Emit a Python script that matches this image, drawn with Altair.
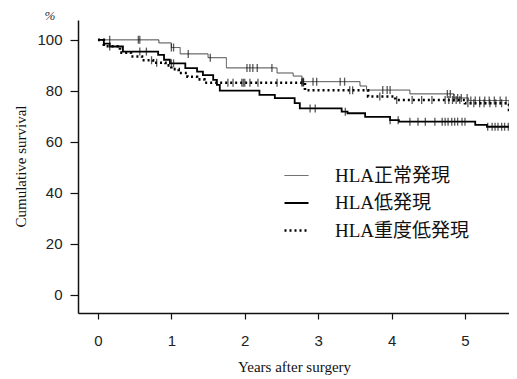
import altair as alt
import pandas as pd

groups = ["HLA正常発現", "HLA低発現", "HLA重度低発現"]
end_time = 5.75

# Kaplan-Meier steps (years, survival %)
normal_t = [0, 0.83, 1.0, 1.12, 1.5, 1.75, 2.44, 2.66, 2.78, 3.57, 3.66, 4.25, 4.85, 5.05, 5.6]
normal_s = [100, 98.8, 97.0, 94.5, 93.0, 89.0, 87.0, 85.8, 83.6, 81.9, 80.3, 78.8, 77.2, 76.2, 73.5]

low_t = [0, 0.08, 0.16, 0.34, 0.82, 0.9, 0.98, 1.19, 1.35, 1.43, 1.57, 1.62, 1.66, 2.2, 2.41, 2.68, 2.75,
         3.32, 3.4, 3.64, 3.98, 4.1, 5.14, 5.3]
low_s = [100, 98.5, 97.4, 95.4, 94.1, 92.2, 90.8, 88.9, 87.5, 86.2, 84.3, 82.3, 80.1, 78.4, 77.1, 75.2, 73.1,
         71.8, 71.2, 69.8, 68.5, 67.9, 66.6, 65.9]

severe_t = [0, 0.08, 0.3, 0.45, 0.6, 0.75, 0.92, 1.0, 1.1, 1.22, 1.35, 1.45, 2.82, 3.68, 4.05, 5.0, 5.6]
severe_s = [100, 97.5, 95.0, 93.5, 92.0, 91.0, 90.0, 88.5, 87.0, 85.5, 84.5, 83.2, 80.2, 77.8, 76.4, 75.1, 72.5]

# censoring times (years)
normal_c = [0.16, 0.55, 0.57, 1.0, 1.03, 1.23, 1.53, 2.03, 2.07, 2.11, 2.17, 2.37, 2.78, 2.8, 2.93, 2.98,
            3.3, 3.36, 3.88, 3.94, 3.98, 4.76, 4.8, 4.85, 4.9, 4.95, 5.03, 5.08, 5.14, 5.2, 5.27, 5.33,
            5.4, 5.48, 5.56, 5.66]
low_c = [0.16, 0.57, 0.66, 1.0, 1.03, 2.89, 2.96, 3.37, 3.98, 4.09, 4.25, 4.36, 4.46, 4.59, 4.69, 4.73,
         4.77, 4.82, 4.86, 4.9, 4.96, 5.0, 5.31, 5.37, 5.41, 5.45, 5.5, 5.54, 5.59, 5.64]
severe_c = [0.73, 0.8, 1.77, 1.84, 1.96, 1.98, 2.0, 2.07, 2.18, 2.44, 2.78, 2.8, 3.43, 3.47, 3.84, 4.07,
            4.28, 4.41, 4.55, 4.73, 4.78, 4.83, 4.88, 4.93, 5.04, 5.12, 5.2, 5.26, 5.34, 5.42, 5.5]

y_ticks = [0, 10, 20, 30, 40, 50, 60, 70, 80, 90, 100]
x_ticks = [0, 1, 2, 3, 4, 5]
pct_label = ["%"]

series = [(groups[0], normal_t, normal_s, normal_c),
          (groups[1], low_t, low_s, low_c),
          (groups[2], severe_t, severe_s, severe_c)]

step_rows, cens_rows = [], []
for g, ts, ss, cs in series:
    for t, s in zip(ts, ss):
        step_rows.append({"group": g, "t": t, "s": s})
    step_rows.append({"group": g, "t": end_time, "s": ss[-1]})
    for c in cs:
        sv = [s for t, s in zip(ts, ss) if t <= c][-1]
        cens_rows.append({"group": g, "t": c, "s": sv})

steps = pd.DataFrame(step_rows)
cens = pd.DataFrame(cens_rows)

serif = "'Liberation Serif', 'Noto Sans CJK JP'"
sans = "'Liberation Sans', Arial"

x_scale = alt.Scale(domain=[-0.272, 5.6], nice=False, zero=False)
y_scale = alt.Scale(domain=[-7.2, 107.8], nice=False, zero=False)

x_enc = alt.X("t:Q", scale=x_scale, axis=alt.Axis(
    values=x_ticks, format="d", title="Years after surgery", titleFont=serif, titleFontSize=15,
    titleFontWeight="normal", titleColor="#111", titleX=216, titleY=53, titleBaseline="middle",
    labelFont=sans, labelFontSize=15, labelColor="#222", labelPadding=14, tickSize=6,
    tickColor="#111", tickWidth=1.2, domainColor="#111", domainWidth=1.5, grid=False))
y_enc = alt.Y("s:Q", scale=y_scale, axis=alt.Axis(
    values=y_ticks, title="Cumulative survival", titleFont=serif, titleFontSize=15,
    titleFontWeight="normal", titleColor="#111", titleX=-58, titleY=146, titleAngle=270,
    titleAlign="center", titleBaseline="middle",
    labelExpr="datum.value % 20 === 0 ? datum.label : ''",
    labelFont=sans, labelFontSize=15, labelColor="#222", labelPadding=8,
    tickSize={"condition": {"test": "datum.value % 20 === 0", "value": 8}, "value": 5},
    tickColor="#111", tickWidth=1.2, domainColor="#111", domainWidth=1.5, grid=False))

lines = alt.Chart(steps).mark_line(interpolate="step-after", clip=True).encode(
    x=x_enc, y=y_enc,
    color=alt.Color("group:N", scale=alt.Scale(domain=groups, range=["#444", "#000", "#000"]),
                    legend=alt.Legend(title=None)),
    strokeWidth=alt.StrokeWidth("group:N", scale=alt.Scale(domain=groups, range=[1.0, 2.6, 2.2]),
                                legend=alt.Legend(title=None)),
    strokeDash=alt.StrokeDash("group:N", scale=alt.Scale(domain=groups, range=[[1, 0], [1, 0], [2, 3]]),
                              legend=alt.Legend(title=None)),
    detail="group:N",
)

ticks = alt.Chart(cens).mark_tick(orient="vertical", size=8, thickness=1.3, clip=True, color="#111").encode(
    x="t:Q", y="s:Q"
)

pct = alt.Chart(pd.DataFrame({"label": pct_label})).mark_text(
    font=serif, fontSize=13, fontStyle="italic", color="#333", align="center", baseline="middle"
).encode(x=alt.value(-28), y=alt.value(-4), text="label:N")

chart = alt.layer(lines, ticks, pct).properties(
    width=431, height=293,
    autosize=alt.AutoSizeParams(type="none"),
    padding={"left": 70, "top": 12, "right": 0, "bottom": 64},
).configure_view(stroke=None).configure_legend(
    orient="none", legendX=205, legendY=143, padding=0,
    labelFont=serif, labelFontSize=19, labelColor="#111", labelOffset=25,
    symbolType="stroke", symbolSize=576, rowPadding=4, labelLimit=300,
)

chart.save("out.html", embed_options={"renderer": "svg", "actions": False})
